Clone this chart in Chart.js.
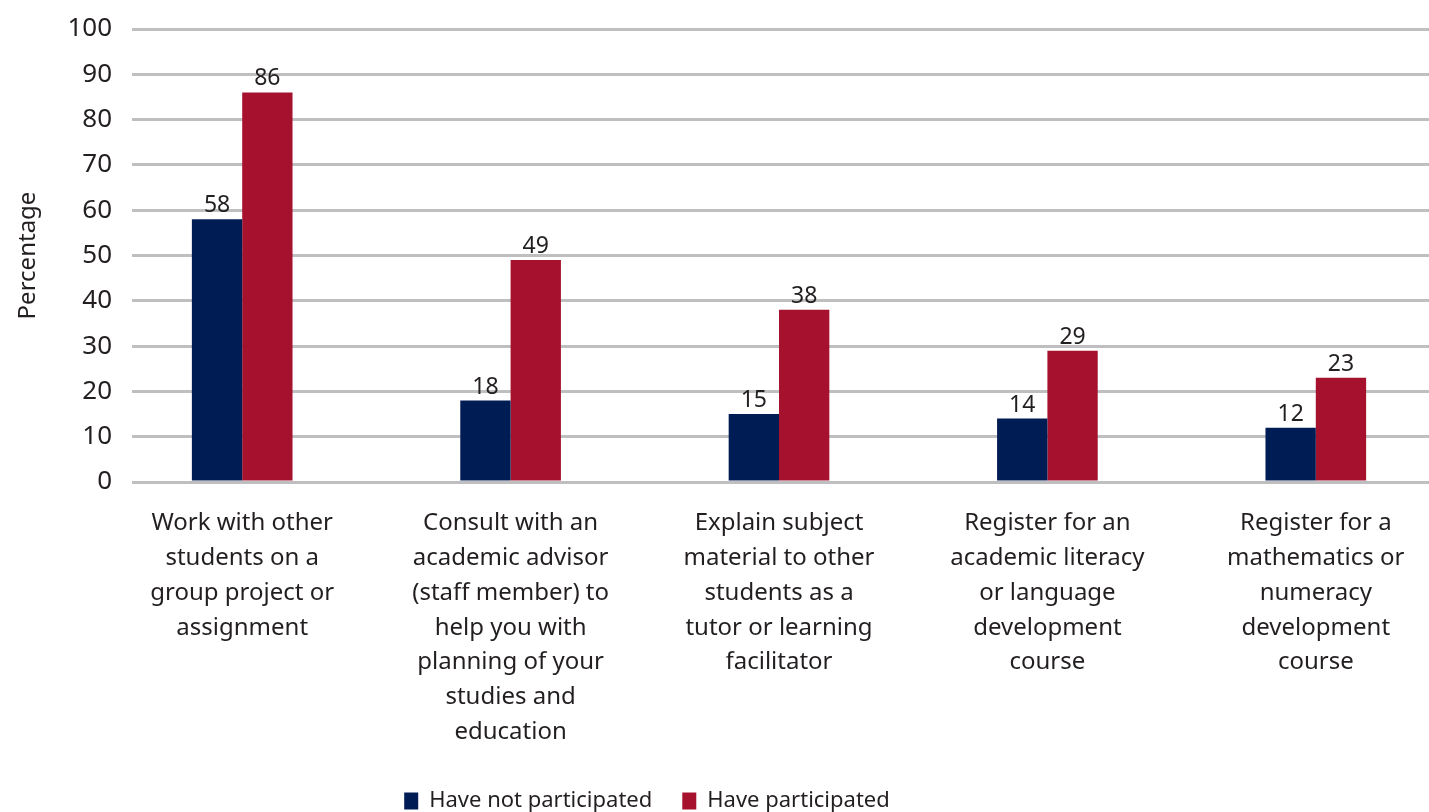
<!DOCTYPE html>
<html>
<head>
<meta charset="utf-8">
<script src="https://cdn.jsdelivr.net/npm/chart.js@4"></script>
<style>
  html, body { margin: 0; padding: 0; background: #fff; overflow: hidden; }
  #wrap { width: 1450px; height: 826px; }
</style>
</head>
<body>
<div id="wrap"><canvas id="myChart" width="1450" height="826"></canvas></div>
<script>
// Categories, split into the lines shown under each group
const categories = [
    ["Work with other", "students on a", "group project or", "assignment"],
    ["Consult with an", "academic advisor", "(staff member) to", "help you with", "planning of your", "studies and", "education"],
    ["Explain subject", "material to other", "students as a", "tutor or learning", "facilitator"],
    ["Register for an", "academic literacy", "or language", "development", "course"],
    ["Register for a", "mathematics or", "numeracy", "development", "course"]
];

// Series values (percent)
const notParticipated = [58, 18, 15, 14, 12];
const participated = [86, 49, 38, 29, 23];

const seriesNames = ["Have not participated", "Have participated"];
const yTicks = [0, 10, 20, 30, 40, 50, 60, 70, 80, 90, 100];

const textColor = "#231f20";
const fontFamily = "'Noto Sans', 'Open Sans', sans-serif";
const tickFontSize = 26;

// width of the widest y label, so the mirrored labels end just left of the grid
const canvas = document.getElementById("myChart");
const mctx = canvas.getContext("2d");
mctx.font = tickFontSize + "px " + fontFamily;
const widest = Math.max(...yTicks.map(v => mctx.measureText(String(v)).width));

// Draw the value above each bar
const valueLabels = {
    id: "valueLabels",
    afterDatasetsDraw(chart) {
        const ctx = chart.ctx;
        ctx.save();
        ctx.font = "23px " + fontFamily;
        ctx.fillStyle = textColor;
        ctx.textAlign = "center";
        ctx.textBaseline = "bottom";
        chart.data.datasets.forEach((ds, i) => {
            chart.getDatasetMeta(i).data.forEach((bar, j) => {
                ctx.fillText(ds.data[j], bar.x, bar.y - 2);
            });
        });
        ctx.restore();
    }
};

// The legend in the original sits left of the canvas centre
const legendShift = {
    id: "legendShift",
    afterLayout(chart) {
        const lg = chart.legend;
        lg.left -= 78;
        lg.right -= 78;
        lg.top -= 4;
        lg.bottom -= 4;
    }
};

new Chart(canvas, {
    type: "bar",
    data: {
        labels: categories,
        datasets: [{
            label: seriesNames[0],
            data: notParticipated,
            backgroundColor: "#001c54"
        }, {
            label: seriesNames[1],
            data: participated,
            backgroundColor: "#a6122e"
        }]
    },
    options: {
        responsive: false,
        animation: false,
        layout: { padding: { top: 29, right: 0, bottom: 0, left: 0 } },
        datasets: {
            bar: { categoryPercentage: 0.375, barPercentage: 1 }
        },
        plugins: {
            legend: {
                position: "bottom",
                labels: {
                    boxWidth: 14,
                    boxHeight: 17,
                    padding: 30,
                    color: textColor,
                    font: { family: fontFamily, size: 22 }
                }
            },
            tooltip: { enabled: false }
        },
        scales: {
            x: {
                grid: { display: false, drawTicks: false },
                border: { display: false },
                ticks: {
                    color: textColor,
                    font: { family: fontFamily, size: 24, lineHeight: 1.45 },
                    padding: 24,
                    maxRotation: 0,
                    autoSkip: false
                },
                afterFit(scale) { scale.height = 282; }
            },
            y: {
                min: 0,
                max: 100,
                afterBuildTicks(scale) { scale.ticks = yTicks.map(v => ({ value: v })); },
                grid: { color: "#bfbfc1", lineWidth: 3, drawTicks: false },
                border: { display: false },
                ticks: {
                    color: textColor,
                    font: { family: fontFamily, size: tickFontSize },
                    mirror: true,
                    crossAlign: "far",
                    padding: 4 - widest,
                    // white box so the grid lines start clear of the numbers
                    showLabelBackdrop: true,
                    backdropColor: "#ffffff",
                    backdropPadding: { top: 0, bottom: 0, left: 0, right: 20 }
                },
                title: {
                    display: true,
                    text: "Percentage",
                    color: textColor,
                    font: { family: fontFamily, size: 24 },
                    padding: { top: 14, bottom: 0 }
                },
                afterFit(scale) { scale.width = 108; }
            }
        }
    },
    plugins: [valueLabels, legendShift]
});
</script>
</body>
</html>
